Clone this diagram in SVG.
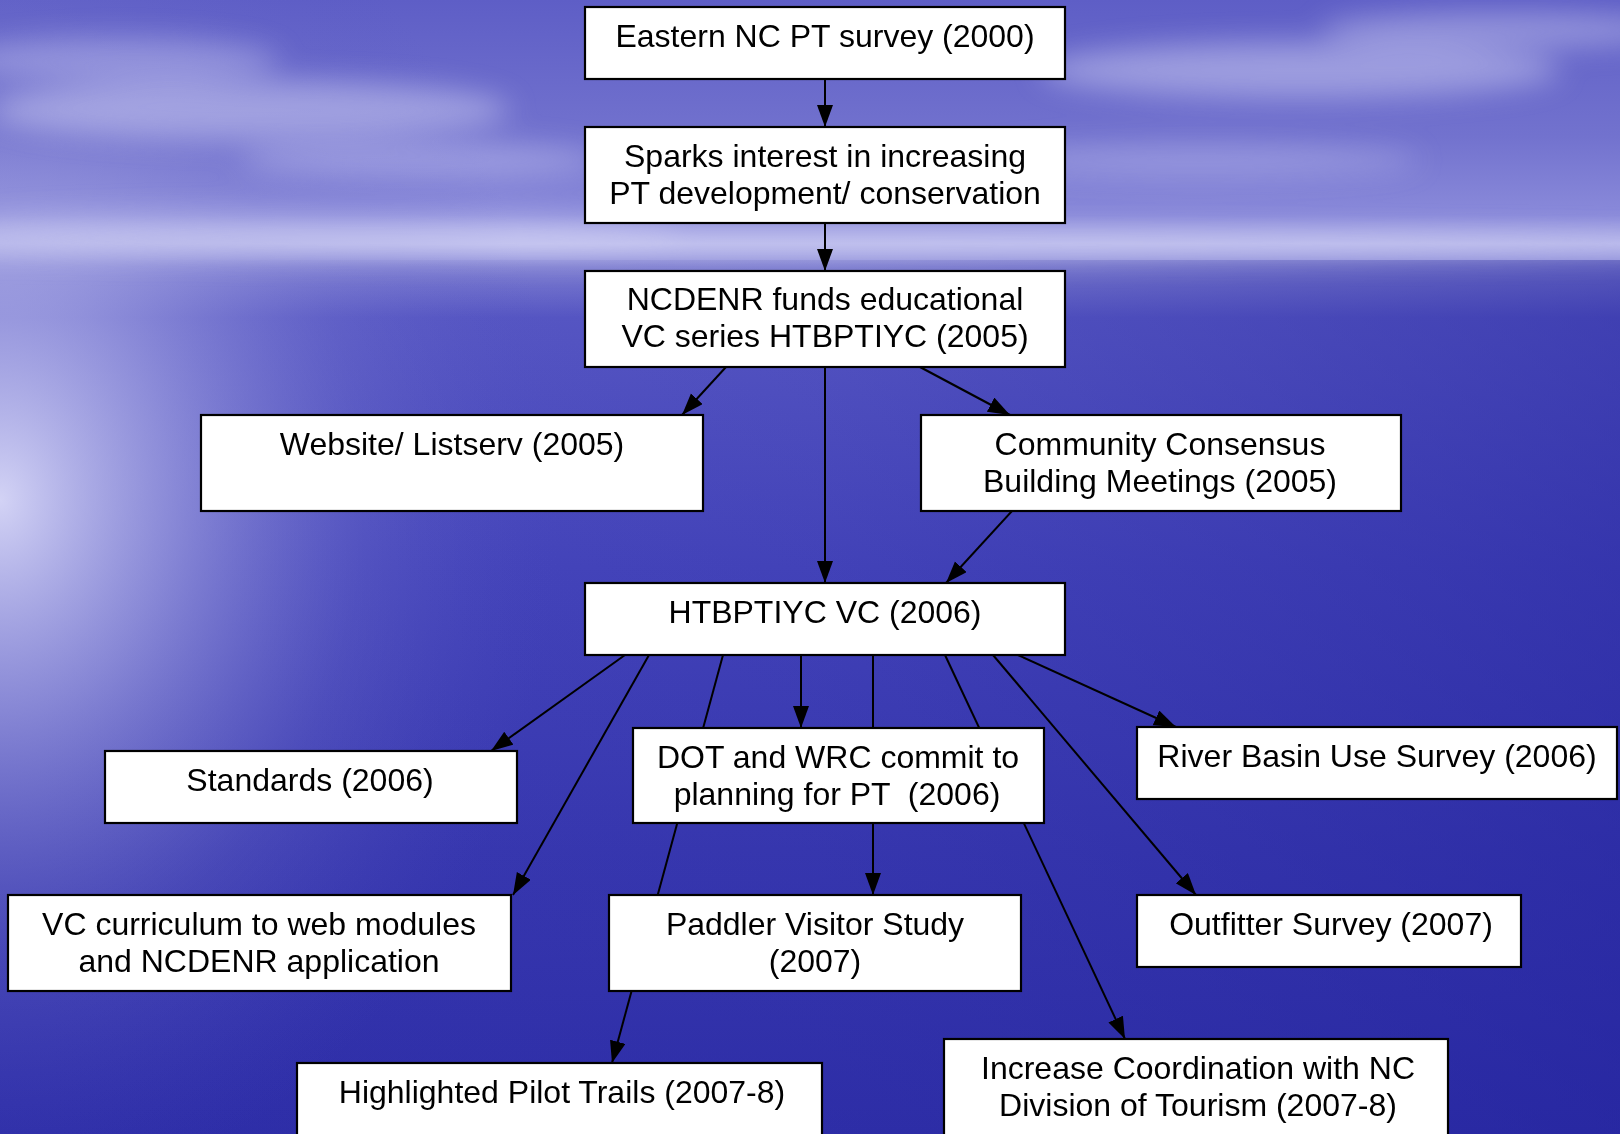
<svg xmlns="http://www.w3.org/2000/svg" width="1620" height="1134" viewBox="0 0 1620 1134">
  <defs>
    <linearGradient id="sky" x1="0" y1="0" x2="0" y2="1">
      <stop offset="0" stop-color="#5e5ec6"/>
      <stop offset="0.12" stop-color="#7272ce"/>
      <stop offset="0.19" stop-color="#8a8ada"/>
      <stop offset="0.215" stop-color="#b0b0e8"/>
      <stop offset="0.235" stop-color="#8686d6"/>
      <stop offset="0.28" stop-color="#5a5ac6"/>
      <stop offset="0.5" stop-color="#4646bc"/>
      <stop offset="0.75" stop-color="#3838b0"/>
      <stop offset="1" stop-color="#2e2ea8"/>
    </linearGradient>
    <linearGradient id="dark" x1="0" y1="0" x2="1" y2="0">
      <stop offset="0" stop-color="#2a2aa0" stop-opacity="0"/>
      <stop offset="0.5" stop-color="#2a2aa0" stop-opacity="0.15"/>
      <stop offset="1" stop-color="#20209a" stop-opacity="0.45"/>
    </linearGradient>
    <radialGradient id="glow" cx="0" cy="0" r="1" gradientUnits="userSpaceOnUse" gradientTransform="translate(0 500) scale(560 700)">
      <stop offset="0" stop-color="#dadaf8" stop-opacity="0.95"/>
      <stop offset="0.3" stop-color="#aeaee6" stop-opacity="0.65"/>
      <stop offset="0.65" stop-color="#7c7cd0" stop-opacity="0.25"/>
      <stop offset="1" stop-color="#5050c0" stop-opacity="0"/>
    </radialGradient>
    <filter id="blur" filterUnits="userSpaceOnUse" x="-300" y="-200" width="2220" height="700">
      <feGaussianBlur stdDeviation="14"/>
    </filter>
    <marker id="ah" markerUnits="userSpaceOnUse" markerWidth="24" markerHeight="18" refX="22" refY="8" orient="auto">
      <path d="M0,0 L22,8 L0,16 Z" fill="#000"/>
    </marker>
    <style>
      .box { fill: #ffffff; stroke: #000000; stroke-width: 2.2; }
      .lbl { font-family: "Liberation Sans", Arial, sans-serif; font-size: 32px; fill: #000000; text-anchor: middle; }
      .cna { stroke: #000000; stroke-width: 2; fill: none; marker-end: url(#ah); }
    </style>
  </defs>

  <!-- background -->
  <g id="background">
    <rect x="0" y="0" width="1620" height="1134" fill="url(#sky)"/>
    <rect x="0" y="260" width="1620" height="874" fill="url(#dark)"/>
    <rect x="0" y="0" width="1620" height="1134" fill="url(#glow)"/>
    <g filter="url(#blur)" fill="#dcdcf8">
      <ellipse cx="250" cy="110" rx="260" ry="30" opacity="0.45"/>
      <ellipse cx="120" cy="60" rx="160" ry="22" opacity="0.35"/>
      <ellipse cx="420" cy="160" rx="180" ry="18" opacity="0.35"/>
      <ellipse cx="1300" cy="70" rx="260" ry="28" opacity="0.45"/>
      <ellipse cx="1500" cy="30" rx="180" ry="18" opacity="0.4"/>
      <ellipse cx="1200" cy="160" rx="220" ry="16" opacity="0.3"/>
      <ellipse cx="810" cy="245" rx="1000" ry="12" opacity="0.55"/>
      <ellipse cx="300" cy="230" rx="380" ry="18" opacity="0.35"/>
    </g>
  </g>

  <!-- connectors -->
  <g id="connectors">
    <line class="cna" x1="825" y1="79" x2="825" y2="127"/>
    <line class="cna" x1="825" y1="223" x2="825" y2="271"/>
    <line class="cna" x1="726" y1="367" x2="682" y2="415"/>
    <line class="cna" x1="920" y1="367" x2="1010" y2="415"/>
    <line class="cna" x1="825" y1="367" x2="825" y2="583"/>
    <line class="cna" x1="1012" y1="511" x2="946" y2="583"/>
    <line class="cna" x1="625" y1="655" x2="491" y2="751"/>
    <line class="cna" x1="649" y1="655" x2="513" y2="895"/>
    <line class="cna" x1="723" y1="655" x2="612" y2="1063"/>
    <line class="cna" x1="801" y1="655" x2="801" y2="728"/>
    <line class="cna" x1="873" y1="655" x2="873" y2="895"/>
    <line class="cna" x1="945" y1="655" x2="1125" y2="1039"/>
    <line class="cna" x1="993" y1="655" x2="1196" y2="895"/>
    <line class="cna" x1="1018" y1="655" x2="1176" y2="727"/>
  </g>

  <g id="n-eastern">
    <rect class="box" x="585" y="7" width="480" height="72"/>
    <text class="lbl" x="825" y="47">Eastern NC PT survey (2000)</text>
  </g>
  <g id="n-sparks">
    <rect class="box" x="585" y="127" width="480" height="96"/>
    <text class="lbl" x="825" y="167">Sparks interest in increasing</text>
    <text class="lbl" x="825" y="204">PT development/ conservation</text>
  </g>
  <g id="n-ncdenr">
    <rect class="box" x="585" y="271" width="480" height="96"/>
    <text class="lbl" x="825" y="310">NCDENR funds educational</text>
    <text class="lbl" x="825" y="347">VC series HTBPTIYC (2005)</text>
  </g>
  <g id="n-website">
    <rect class="box" x="201" y="415" width="502" height="96"/>
    <text class="lbl" x="452" y="455">Website/ Listserv (2005)</text>
  </g>
  <g id="n-community">
    <rect class="box" x="921" y="415" width="480" height="96"/>
    <text class="lbl" x="1160" y="455">Community Consensus</text>
    <text class="lbl" x="1160" y="492">Building Meetings (2005)</text>
  </g>
  <g id="n-htbvc">
    <rect class="box" x="585" y="583" width="480" height="72"/>
    <text class="lbl" x="825" y="623">HTBPTIYC VC (2006)</text>
  </g>
  <g id="n-standards">
    <rect class="box" x="105" y="751" width="412" height="72"/>
    <text class="lbl" x="310" y="791">Standards (2006)</text>
  </g>
  <g id="n-dot">
    <rect class="box" x="633" y="728" width="411" height="95"/>
    <text class="lbl" x="838" y="768">DOT and WRC commit to</text>
    <text class="lbl" x="837" y="805" xml:space="preserve">planning for PT  (2006)</text>
  </g>
  <g id="n-river">
    <rect class="box" x="1137" y="727" width="480" height="72"/>
    <text class="lbl" x="1377" y="767">River Basin Use Survey (2006)</text>
  </g>
  <g id="n-vccurriculum">
    <rect class="box" x="8" y="895" width="503" height="96"/>
    <text class="lbl" x="259" y="935">VC curriculum to web modules</text>
    <text class="lbl" x="259" y="972">and NCDENR application</text>
  </g>
  <g id="n-paddler">
    <rect class="box" x="609" y="895" width="412" height="96"/>
    <text class="lbl" x="815" y="935">Paddler Visitor Study</text>
    <text class="lbl" x="815" y="972">(2007)</text>
  </g>
  <g id="n-outfitter">
    <rect class="box" x="1137" y="895" width="384" height="72"/>
    <text class="lbl" x="1331" y="935">Outfitter Survey (2007)</text>
  </g>
  <g id="n-highlighted">
    <rect class="box" x="297" y="1063" width="525" height="90"/>
    <text class="lbl" x="562" y="1103">Highlighted Pilot Trails (2007-8)</text>
  </g>
  <g id="n-increase">
    <rect class="box" x="944" y="1039" width="504" height="110"/>
    <text class="lbl" x="1198" y="1079">Increase Coordination with NC</text>
    <text class="lbl" x="1198" y="1116">Division of Tourism (2007-8)</text>
  </g>
</svg>
